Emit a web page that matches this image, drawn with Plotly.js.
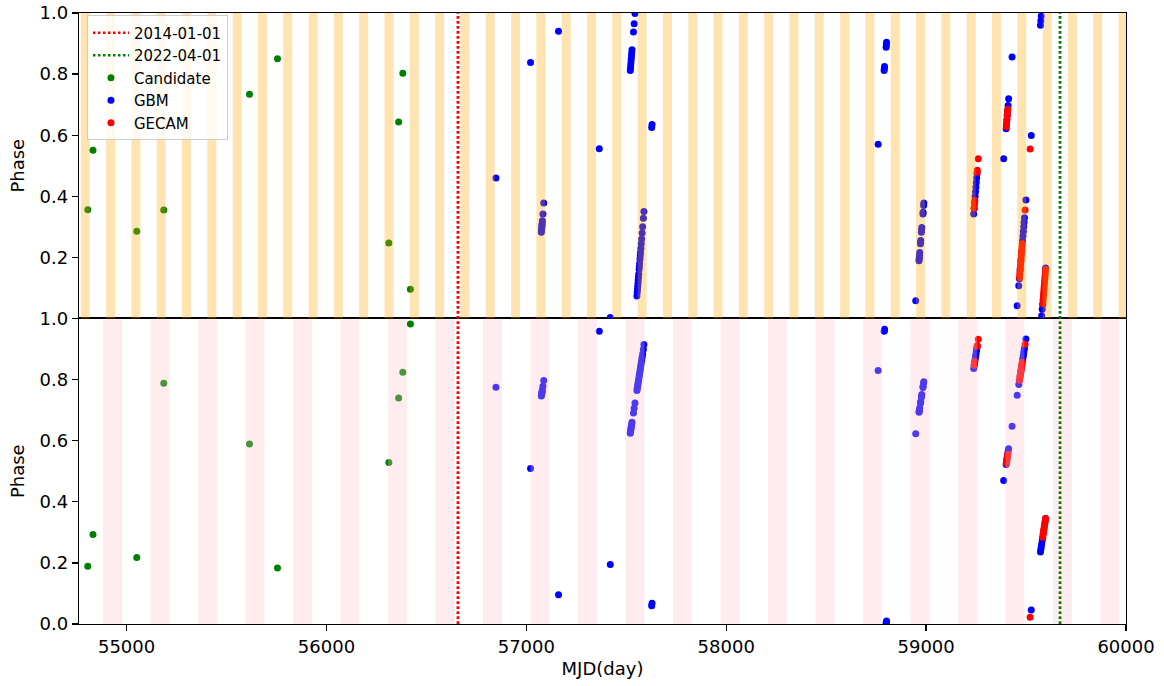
<!DOCTYPE html>
<html>
<head>
<meta charset="utf-8">
<script src="https://cdn.plot.ly/plotly-3.0.1.min.js"></script>
<style>html,body{margin:0;padding:0;background:#fff;}#chart{width:1164px;height:686px;}</style>
</head>
<body>
<div id="chart"></div>
<script>
// ---------------- data ----------------
const refLineNames = ['2014-01-01', '2022-04-01'];
const refLineMjd = [56658, 59670];

const candMjd = [54806, 54832, 55051, 55186, 55615, 55755, 56312, 56361, 56382, 56420];
const candTop = [0.356, 0.551, 0.286, 0.355, 0.734, 0.850, 0.247, 0.643, 0.803, 0.096];
const candBottom = [0.189, 0.293, 0.218, 0.788, 0.589, 0.183, 0.529, 0.740, 0.824, 0.982];

const gbmMjd = [
  56848, 57021,
  57075, 57076, 57077, 57077.6, 57078, 57079, 57080, 57083, 57087,
  57161, 57365, 57420,
  57520, 57521, 57522.3, 57523.5, 57524.8, 57526.1, 57527.3, 57528.6, 57536, 57539.4, 57543.5,
  57553.2, 57554.6, 57555.8, 57557.1, 57558.4, 57559.6, 57560.9, 57562.2, 57564.1, 57565.3,
  57566.6, 57568.5, 57569.8, 57571.1, 57572.9, 57574.8, 57576.7, 57579.2, 57581.8, 57585.3, 57588.1,
  57627, 57629,
  58760, 58790, 58791, 58792, 58800, 58801, 58802,
  58948, 58964.6, 58965.4, 58966, 58967, 58968, 58971.7, 58972.3, 58973, 58976.4, 58977.4, 58978.4,
  58984, 58984.8, 58987.5, 58988.5,
  59238, 59240.3, 59242.8, 59245.3, 59247.2, 59249.1, 59251, 59252.9, 59254.7,
  59388, 59400.4, 59402.2, 59404.1, 59406, 59407.9, 59410, 59412.8,
  59430,
  59455.5, 59463.7, 59466.6, 59470.4, 59474.2, 59478, 59482.5, 59484.4, 59486.3, 59488.2, 59490.1, 59492, 59499.3,
  59526,
  59572, 59573.9, 59575.8, 59578.2, 59580.9, 59582.8, 59598
];
const gbmTop = [
  0.460, 0.838,
  0.282, 0.290, 0.295, 0.300, 0.305, 0.310, 0.320, 0.342, 0.378,
  0.940, 0.556, 0.003,
  0.812, 0.820, 0.830, 0.840, 0.850, 0.860, 0.870, 0.880, 0.938, 0.965, 0.998,
  0.074, 0.085, 0.095, 0.105, 0.115, 0.125, 0.135, 0.145, 0.160, 0.170,
  0.180, 0.195, 0.205, 0.216, 0.230, 0.245, 0.260, 0.280, 0.300, 0.328, 0.350,
  0.625, 0.635,
  0.570, 0.812, 0.818, 0.825, 0.888, 0.896, 0.904,
  0.058, 0.189, 0.195, 0.200, 0.207, 0.216, 0.245, 0.250, 0.255, 0.282, 0.290, 0.298,
  0.342, 0.348, 0.370, 0.378,
  0.342, 0.360, 0.380, 0.400, 0.415, 0.430, 0.445, 0.460, 0.474,
  0.523, 0.621, 0.635, 0.650, 0.665, 0.680, 0.697, 0.719,
  0.856,
  0.042, 0.107, 0.130, 0.160, 0.190, 0.220, 0.255, 0.270, 0.285, 0.300, 0.315, 0.330, 0.388,
  0.599,
  0.960, 0.975, 0.990, 0.009, 0.030, 0.045, 0.165
];
const gbmBottom = [
  0.775, 0.509,
  0.746, 0.750, 0.753, 0.756, 0.758, 0.761, 0.766, 0.778, 0.797,
  0.096, 0.958, 0.195,
  0.624, 0.628, 0.634, 0.639, 0.644, 0.650, 0.655, 0.660, 0.691, 0.706, 0.723,
  0.764, 0.770, 0.775, 0.780, 0.786, 0.791, 0.796, 0.801, 0.809, 0.815,
  0.820, 0.828, 0.833, 0.839, 0.847, 0.855, 0.863, 0.873, 0.884, 0.899, 0.915,
  0.060, 0.068,
  0.830, 0.958, 0.961, 0.965, 0.002, 0.006, 0.010,
  0.623, 0.693, 0.696, 0.699, 0.702, 0.707, 0.723, 0.725, 0.728, 0.742, 0.747, 0.751,
  0.774, 0.778, 0.789, 0.793,
  0.836, 0.846, 0.856, 0.867, 0.875, 0.883, 0.891, 0.899, 0.906,
  0.470, 0.522, 0.530, 0.538, 0.546, 0.554, 0.563, 0.574,
  0.647,
  0.749, 0.784, 0.796, 0.812, 0.828, 0.844, 0.863, 0.871, 0.879, 0.887, 0.895, 0.903, 0.933,
  0.046,
  0.236, 0.244, 0.252, 0.262, 0.273, 0.281, 0.345
];

const gecamMjd = [
  59240.5, 59242.2, 59243.6, 59255.3, 59256.1, 59260.9,
  59401.3, 59402.8, 59404.3, 59405.8, 59407.4, 59408.5,
  59467.2, 59468.5, 59469.8, 59471.1, 59472.3, 59473.6, 59474.9, 59476.1, 59477.4, 59478.7, 59479.9, 59481.2, 59495.1,
  59520.4,
  59583.4, 59584.9, 59586.2, 59587.5, 59588.7, 59590, 59591.3, 59592.5, 59593.8, 59595.1, 59596.3, 59597.6
];
const gecamTop = [
  0.362, 0.375, 0.386, 0.479, 0.485, 0.523,
  0.628, 0.640, 0.652, 0.664, 0.676, 0.685,
  0.134, 0.145, 0.155, 0.165, 0.175, 0.185, 0.195, 0.205, 0.215, 0.225, 0.235, 0.245, 0.355,
  0.555,
  0.048, 0.060, 0.070, 0.080, 0.090, 0.100, 0.110, 0.120, 0.130, 0.140, 0.150, 0.160
];
const gecamBottom = [
  0.847, 0.854, 0.859, 0.909, 0.912, 0.932,
  0.526, 0.532, 0.538, 0.545, 0.551, 0.556,
  0.798, 0.804, 0.809, 0.815, 0.820, 0.825, 0.831, 0.836, 0.841, 0.847, 0.852, 0.857, 0.916,
  0.022,
  0.284, 0.292, 0.297, 0.303, 0.308, 0.313, 0.319, 0.324, 0.329, 0.335, 0.340, 0.345
];

const xTicks = [55000, 56000, 57000, 58000, 59000, 60000];
const yTicksTop = [0.2, 0.4, 0.6, 0.8, 1.0];
const yTicksBottom = [0.0, 0.2, 0.4, 0.6, 0.8, 1.0];

// shaded intervals (period, first start, width in days)
const topBand = {period: 126.63, start: 54897.4, width: 45};
const bottomBand = {period: 237.6, start: 54882.4, width: 95};

// ---------------- drawing ----------------
const X_RANGE = [54762, 60000];
const FONT = 'DejaVu Sans, Liberation Sans, sans-serif';

function bands(spec, yref, color) {
  const out = [];
  for (let k = -2; ; k++) {
    let x0 = spec.start + k * spec.period;
    let x1 = x0 + spec.width;
    if (x0 > X_RANGE[1]) break;
    if (x1 < X_RANGE[0]) continue;
    x0 = Math.max(x0, X_RANGE[0]);
    x1 = Math.min(x1, X_RANGE[1]);
    out.push({type: 'rect', xref: 'x', yref: yref, x0: x0, x1: x1, y0: 0, y1: 1,
      fillcolor: color, opacity: 0.3, line: {width: 0}, layer: 'above'});
  }
  return out;
}

const lineColors = ['red', 'green'];
const DASH = '2.5px,2.5px';
const LW = 2.5;
const traces = [];
refLineMjd.forEach((m, i) => {
  traces.push({x: [m, m], y: [0, 1], xaxis: 'x2', yaxis: 'y2', mode: 'lines', name: refLineNames[i],
    line: {color: lineColors[i], width: LW, dash: DASH}, showlegend: true, hoverinfo: 'skip'});
});
const mk = (c) => ({color: c, size: 7, line: {width: 0}});
traces.push({x: candMjd, y: candTop, xaxis: 'x2', yaxis: 'y2', mode: 'markers', name: 'Candidate', marker: mk('green')});
traces.push({x: gbmMjd, y: gbmTop, xaxis: 'x2', yaxis: 'y2', mode: 'markers', name: 'GBM', marker: mk('blue')});
traces.push({x: gecamMjd, y: gecamTop, xaxis: 'x2', yaxis: 'y2', mode: 'markers', name: 'GECAM', marker: mk('red')});
refLineMjd.forEach((m, i) => {
  traces.push({x: [m, m], y: [0, 1], xaxis: 'x', yaxis: 'y', mode: 'lines', name: refLineNames[i],
    line: {color: lineColors[i], width: LW, dash: DASH}, showlegend: false, hoverinfo: 'skip'});
});
traces.push({x: candMjd, y: candBottom, xaxis: 'x', yaxis: 'y', mode: 'markers', name: 'Candidate', marker: mk('green'), showlegend: false});
traces.push({x: gbmMjd, y: gbmBottom, xaxis: 'x', yaxis: 'y', mode: 'markers', name: 'GBM', marker: mk('blue'), showlegend: false});
traces.push({x: gecamMjd, y: gecamBottom, xaxis: 'x', yaxis: 'y', mode: 'markers', name: 'GECAM', marker: mk('red'), showlegend: false});

// reference lines redrawn above the shaded bands
const lineShapes = [];
refLineMjd.forEach((m, i) => {
  ['y', 'y2'].forEach(yr => {
    lineShapes.push({type: 'line', xref: 'x', yref: yr, x0: m, x1: m, y0: 0, y1: 1, layer: 'above',
      line: {color: lineColors[i], width: LW, dash: DASH}});
  });
});

const axisCommon = {showline: true, linecolor: 'black', linewidth: 1.3, mirror: true, showgrid: false, zeroline: false,
  ticks: 'outside', ticklen: 6, tickwidth: 1.3, tickcolor: 'black', tickfont: {family: FONT, size: 18, color: 'black'}};

const layout = {
  width: 1164, height: 686,
  margin: {l: 79, r: 38, t: 13, b: 62, pad: 0},
  paper_bgcolor: 'white', plot_bgcolor: 'white',
  font: {family: FONT, color: 'black'},
  showlegend: true,
  legend: {x: 0.0076, y: 0.996, xanchor: 'left', yanchor: 'top', bgcolor: 'rgba(255,255,255,0.8)',
    bordercolor: '#cccccc', borderwidth: 1, itemwidth: 36, tracegroupgap: 0,
    font: {family: FONT, size: 15, color: 'black'}},
  xaxis: Object.assign({}, axisCommon, {domain: [0, 1], anchor: 'y', range: X_RANGE, tickmode: 'array', tickvals: xTicks,
    ticktext: xTicks.map(String), title: {text: 'MJD(day)', font: {family: FONT, size: 18}, standoff: 6}}),
  xaxis2: Object.assign({}, axisCommon, {domain: [0, 1], anchor: 'y2', side: 'top', mirror: false, range: X_RANGE, matches: 'x', ticks: '', showticklabels: false}),
  yaxis: Object.assign({}, axisCommon, {domain: [0, 0.5], anchor: 'x', range: [0, 1], tickmode: 'array', tickvals: yTicksBottom,
    ticktext: yTicksBottom.map(v => v.toFixed(1)), title: {text: 'Phase', font: {family: FONT, size: 18}, standoff: 10}}),
  yaxis2: Object.assign({}, axisCommon, {domain: [0.5, 1], anchor: 'x2', range: [0, 1], tickmode: 'array', tickvals: yTicksTop,
    ticktext: yTicksTop.map(v => v.toFixed(1)), title: {text: 'Phase', font: {family: FONT, size: 18}, standoff: 10}}),
  shapes: bands(topBand, 'y2', 'orange').concat(bands(bottomBand, 'y', 'pink')).concat(lineShapes)
};

Plotly.newPlot('chart', traces, layout, {displayModeBar: false, staticPlot: true});
</script>
</body>
</html>
